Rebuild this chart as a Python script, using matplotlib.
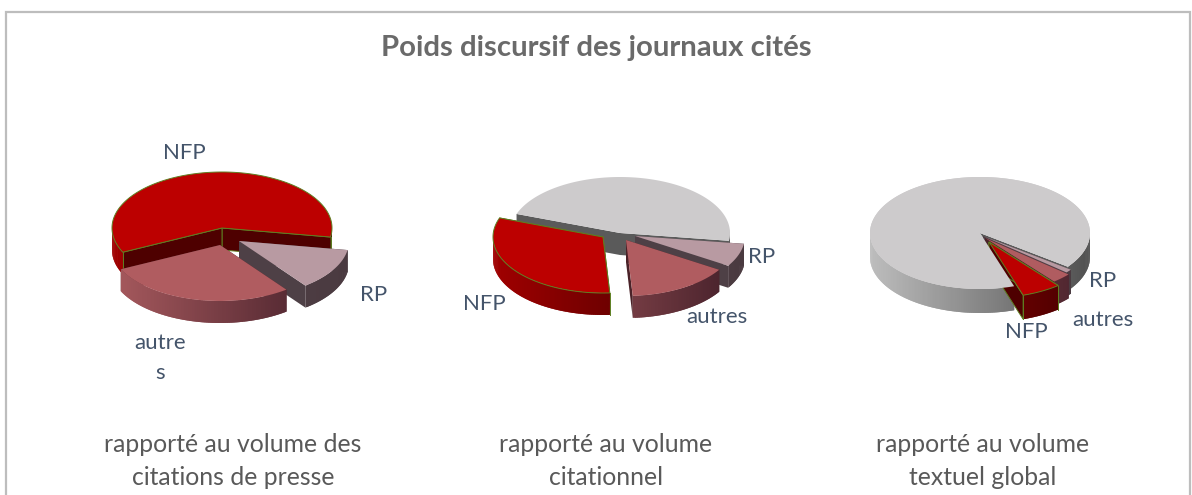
import numpy as np
import matplotlib
matplotlib.use('Agg')
import matplotlib.pyplot as plt
from matplotlib.colors import to_rgb
from matplotlib.patches import Polygon, Rectangle

plt.rcParams['font.family'] = ['Lato', 'DejaVu Sans']

slices = ['reste', 'NFP', 'autres', 'RP']

# share of each slice, in %
citations_presse = [0.0, 59.7, 28.2, 12.1]
volume_citationnel = [46.7, 31.5, 15.1, 6.7]
volume_global = [90.3, 5.8, 2.9, 1.0]

title = 'Poids discursif des journaux cités'
captions = ['rapporté au volume des\ncitations de presse',
            'rapporté au volume\ncitationnel',
            'rapporté au volume\ntextuel global']

# top colour, wall colour left, wall colour right, inner wall colour
colors = {'NFP': ('#BC0000', '#A00000', '#420000', '#4E0000'),
          'autres': ('#B05C60', '#A85A5E', '#45202A', '#4A2228'),
          'RP': ('#B89AA2', '#55444A', '#4A3A40', '#4E4046'),
          'reste': ('#CDCBCC', '#BDBDBD', '#505050', '#5A5A5A')}
outline = '#5E7F22'


def mix(c1, c2, t):
    return tuple((1 - t) * np.array(to_rgb(c1)) + t * np.array(to_rgb(c2)))


def draw_top(ax, name, a1, a2, cx, cy, rx, ry):
    edge = outline if name == 'NFP' else 'none'
    theta = np.radians(np.linspace(a1, a2, max(int(a2 - a1) + 2, 4)))
    face = [(cx, cy)] + list(zip(cx + rx * np.cos(theta), cy - ry * np.sin(theta)))
    ax.add_patch(Polygon(face, fc=colors[name][0], ec=edge, lw=0.7, zorder=ax.next_z()))


def draw_slice(ax, name, a1, a2, cx, cy, rx, ry, depth):
    top, left, right, inner = colors[name]
    edge = outline if name == 'NFP' else 'none'
    theta = np.radians(np.linspace(a1, a2, max(int(a2 - a1) + 2, 4)))
    px = cx + rx * np.cos(theta)
    py = cy - ry * np.sin(theta)

    # flat walls going back to the centre
    for i in [0, -1]:
        wall = [(cx, cy), (px[i], py[i]), (px[i], py[i] + depth), (cx, cy + depth)]
        ax.add_patch(Polygon(wall, fc=inner, ec=edge, lw=0.7, zorder=ax.next_z()))

    # outer wall, cut in thin strips for the shading
    for i in range(len(theta) - 1):
        if np.sin(theta[i]) > 0.05:
            continue
        t = (1 - np.cos(theta[i])) / 2
        j = min(i + 2, len(theta) - 1)
        strip = [(px[i], py[i]), (px[j], py[j]),
                 (px[j], py[j] + depth), (px[i], py[i] + depth)]
        ax.add_patch(Polygon(strip, fc=mix(right, left, t), ec='none', zorder=ax.next_z()))
    if name == 'NFP':
        for i in [0, -1]:
            ax.plot([px[i], px[i]], [py[i], py[i] + depth], color=outline, lw=0.7, zorder=ax.next_z())

    draw_top(ax, name, a1, a2, cx, cy, rx, ry)


def draw_pie(ax, values, start, order, offsets, cx, cy, rx=110, ry=56, depth=22, top_last=None):
    angles = {}
    a = start
    for name, v in zip(slices, values):
        angles[name] = (a, a + v * 3.6)
        a += v * 3.6
    for name in order:
        a1, a2 = angles[name]
        dx, dy = offsets.get(name, (0, 0))
        draw_slice(ax, name, a1, a2, cx + dx, cy + dy, rx, ry, depth)
    # the big slice hides the inner walls of the small ones
    if top_last:
        a1, a2 = angles[top_last]
        draw_top(ax, top_last, a1, a2, cx, cy, rx, ry)


fig = plt.figure(figsize=(11.92, 4.95), dpi=100)
ax = fig.add_axes([0, 0, 1, 1])
ax.set_xlim(0, 1192)
ax.set_ylim(495, 0)
ax.axis('off')

z = [10]


def next_z():
    z[0] += 1
    return z[0]


ax.next_z = next_z

ax.add_patch(Rectangle((6, 12), 1184, 500, fc='white', ec='#BDBDBD', lw=1.6, zorder=1))

draw_pie(ax, citations_presse, -9.3, ['NFP', 'RP', 'autres'],
         {'autres': (-2, 17), 'RP': (17, 13)}, 222, 228)
draw_pie(ax, volume_citationnel, -8, ['reste', 'RP', 'autres', 'NFP'],
         {'NFP': (-17, 4), 'autres': (6, 7), 'RP': (15, 3)}, 620, 233)
draw_pie(ax, volume_global, -37, ['reste', 'RP', 'autres', 'NFP'],
         {'NFP': (9, 9), 'autres': (5, 5), 'RP': (3, 3)}, 980, 233, depth=24, top_last='reste')

ax.text(596, 48, title, ha='center', va='center', fontsize=21.2, fontweight='bold',
        color='#6A6A6A', zorder=5000)

label_color = '#44546A'
labels = [('NFP', 184, 153), ('RP', 374, 295), ('autre', 160, 343), ('s', 160, 373),
          ('NFP', 484, 304), ('RP', 762, 257), ('autres', 717, 317),
          ('NFP', 1026, 332), ('RP', 1103, 281), ('autres', 1103, 320)]
for txt, x, y in labels:
    ax.text(x, y, txt, ha='center', va='center', fontsize=16, color=label_color, zorder=5000)

for txt, x in zip(captions, [233, 606, 983]):
    ax.text(x, 461, txt, ha='center', va='center', fontsize=17.8, color='#595959',
            linespacing=1.5, zorder=5000)

fig.savefig('out.png', dpi=100)
